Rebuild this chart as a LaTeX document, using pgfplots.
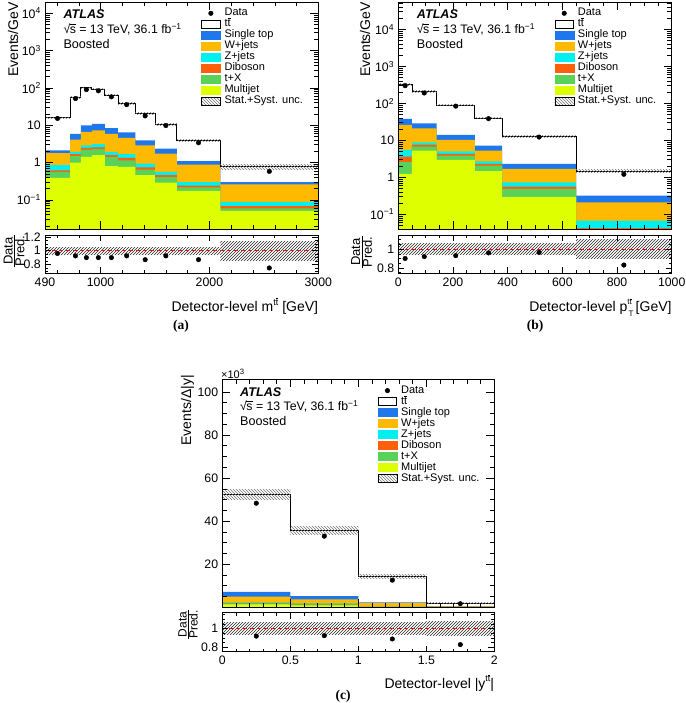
\documentclass[border=0pt]{standalone}
\usepackage{fontspec}
\setmainfont{Liberation Sans}
\newfontfamily\serifbf{Liberation Serif}
\usepackage{pgfplots}
\pgfplotsset{compat=1.18}
\usepackage{pgfplotstable}
\usetikzlibrary{patterns}

\definecolor{cST}{RGB}{30,120,235}
\definecolor{cW}{RGB}{255,185,0}
\definecolor{cZ}{RGB}{0,240,240}
\definecolor{cDB}{RGB}{255,95,10}
\definecolor{cTX}{RGB}{90,210,90}
\definecolor{cMJ}{RGB}{222,255,0}

\newcommand\tickfont{\fontsize{12.3}{14}\selectfont}
\newcommand\labfont{\fontsize{14}{16}\selectfont}
\newcommand\legfont{\fontsize{11}{12}\selectfont}
\newcommand\ratfont{\fontsize{13}{15}\selectfont}
\newcommand\ttbar{t\vbox{\hrule height 0.055em\kern 0.07em\hbox{t}}}
\newcommand\sqrts{√\kern-0.5pt\vbox{\hrule height 0.6pt\kern 2pt\hbox{s}}}

% cumulative stack tops at bin low edges (last row repeats)
\pgfplotstableread{
x tt st wj zj db tx mj
490 15.8 2.13 1.8 0.85 0.62 0.56 0.39
720 56 5.9 4.1 1.92 1.67 1.5 1.0
820 100 9.9 6.6 2.9 2.46 2.22 1.42
920 93 10.9 7.3 3.1 2.56 2.3 1.57
1040 64 8.4 5.9 1.92 1.57 1.42 0.8
1160 38.5 6.4 4.6 1.67 1.33 1.15 0.77
1320 20.5 3.9 2.9 0.94 0.74 0.65 0.46
1500 10.6 2.36 1.74 0.56 0.46 0.41 0.29
1700 3.9 1.1 0.88 0.3 0.24 0.215 0.175
2100 0.77 0.3 0.26 0.089 0.068 0.059 0.051
3000 0.77 0.3 0.26 0.089 0.068 0.059 0.051
}\stackA
\pgfplotstableread{
x tt st wj zj db tx mj
0 332 37.7 26 5.5 3.6 2.6 1.23
50 207 28.8 21 8.8 7.6 6.7 5.2
140 90 13.9 10.2 5.0 4.26 3.85 2.94
280 40 7.2 5.25 2.7 2.3 2.07 1.45
380 12.6 2.3 1.68 0.73 0.56 0.48 0.29
650 1.45 0.32 0.21 0.067 0.042 0.03 0.02
1000 1.45 0.32 0.21 0.067 0.042 0.03 0.02
}\stackB
\pgfplotstableread{
x tt st wj zj db tx mj
0 52.5 7.2 4.9 2.3 2.0 1.85 1.4
0.5 35.7 5.2 3.7 1.85 1.6 1.4 0.9
1 14.2 2.3 1.9 0.35 0.3 0.25 0.15
1.5 2.0 0.55 0.4 0.1 0.08 0.06 0.04
2 2.0 0.55 0.4 0.1 0.08 0.06 0.04
}\stackC
\pgfplotstableread{
x y r
605 15.2 0.96
770 51.8 0.925
870 90 0.90
980 83.7 0.90
1100 57.6 0.90
1240 35.6 0.925
1410 17.8 0.87
1600 9.8 0.925
1900 3.39 0.87
2550 0.58 0.75
}\dataA
\pgfplotstableread{
x y r
25 299 0.90
95 190 0.92
210 83.7 0.93
330 38.4 0.96
515 12.2 0.965
825 1.2 0.83
}\dataB
\pgfplotstableread{
x y r
0.25 48.3 0.92
0.75 33.0 0.925
1.25 12.6 0.89
1.75 1.66 0.83
}\dataC

\newcommand{\stk}[5]{\addplot[const plot, forget plot, #5] table[x=x,y=#2]{#1} |- (axis cs:#3,#4) -- cycle;}
\newcommand{\allstk}[3]{%
\stk{#1}{tt}{#2}{#3}{fill=white, draw=black, line width=0.9pt}
\stk{#1}{st}{#2}{#3}{fill=cST, draw=none}
\stk{#1}{wj}{#2}{#3}{fill=cW, draw=none}
\stk{#1}{zj}{#2}{#3}{fill=cZ, draw=none}
\stk{#1}{db}{#2}{#3}{fill=cDB, draw=none}
\stk{#1}{tx}{#2}{#3}{fill=cTX, draw=none}
\stk{#1}{mj}{#2}{#3}{fill=cMJ, draw=none}
\addplot[const plot, forget plot, draw=black, line width=0.9pt] table[x=x,y=tt]{#1};
}
\newcommand{\bb}[4]{\addplot[forget plot, draw=none, pattern=north west lines, pattern color=black!55] coordinates {(#1,#3) (#2,#3) (#2,#4) (#1,#4)} -- cycle;}
\newcommand{\rb}[4]{\addplot[forget plot, draw=none, pattern=north east lines, pattern color=black!85] coordinates {(#1,#3) (#2,#3) (#2,#4) (#1,#4)} -- cycle;}

\newcommand{\atlaslegend}{%
\addlegendimage{legend image code/.code={\fill[black] (9.5pt,0pt) circle (2.3pt);}}
\addlegendentry{Data}
\addlegendimage{legend image code/.code={\draw[black,fill=white,line width=0.8pt] (0.4pt,-4pt) rectangle (18.6pt,4pt);}}
\addlegendentry{\ttbar}
\addlegendimage{legend image code/.code={\fill[cST] (0pt,-4pt) rectangle (19pt,4pt);}}
\addlegendentry{Single top}
\addlegendimage{legend image code/.code={\fill[cW] (0pt,-4pt) rectangle (19pt,4pt);}}
\addlegendentry{W+jets}
\addlegendimage{legend image code/.code={\fill[cZ] (0pt,-4pt) rectangle (19pt,4pt);}}
\addlegendentry{Z+jets}
\addlegendimage{legend image code/.code={\fill[cDB] (0pt,-4pt) rectangle (19pt,4pt);}}
\addlegendentry{Diboson}
\addlegendimage{legend image code/.code={\fill[cTX] (0pt,-4pt) rectangle (19pt,4pt);}}
\addlegendentry{t+X}
\addlegendimage{legend image code/.code={\fill[cMJ] (0pt,-4pt) rectangle (19pt,4pt);}}
\addlegendentry{Multijet}
\addlegendimage{legend image code/.code={\fill[pattern=north west lines, pattern color=black!55] (0pt,-4pt) rectangle (19pt,4pt);}}
\addlegendentry{Stat.+Syst. unc.}
}

\pgfplotsset{
  atlas/.style={scale only axis, anchor=south west, axis on top, tick align=inside,
    xtick pos=both, ytick pos=both, xticklabel pos=left, yticklabel pos=left,
    axis line style={line width=0.6pt}, tick style={black, line width=0.5pt},
    ticklabel style={font=\tickfont},
    yticklabel style={inner sep=0pt, xshift=-4pt},
    xticklabel style={inner sep=0pt, yshift=-3.5pt, text height=9pt, text depth=0pt},
    /pgf/number format/assume math mode=true},
  atlasleg/.style={legend style={draw=none, fill=none, at={(axis description cs:0.5714,0.9745)},
    anchor=north west, inner sep=0pt, outer sep=0pt, font=\legfont, row sep=0pt,
    nodes={inner sep=0pt, text height=8pt, text depth=3pt},
    /tikz/every odd column/.append style={column sep=4pt}}, legend cell align=left},
  ratio/.style={major tick length=6pt, minor tick length=3pt}
}

\begin{document}
\begin{tikzpicture}
\useasboundingbox (0,0) rectangle (685pt,703pt);

% ===================== (a) =====================
\begin{axis}[atlas, atlasleg, at={(45pt,473.7pt)}, width=273.3pt, height=227.3pt,
  xmin=490, xmax=3000, ymode=log, ymin=0.0163, ymax=2.0e4,
  xtick={490,1000,2000,3000}, xticklabels={},
  minor xtick={600,800,1200,1400,1600,1800,2200,2400,2600,2800},
  ytick={0.1,1,10,100,1000,10000},
  yticklabels={10\textsuperscript{−1},1,10,10\textsuperscript{2},10\textsuperscript{3},10\textsuperscript{4}},
  minor ytick={0.02,0.03,0.04,0.05,0.06,0.07,0.08,0.09,0.2,0.3,0.4,0.5,0.6,0.7,0.8,0.9,2,3,4,5,6,7,8,9,20,30,40,50,60,70,80,90,200,300,400,500,600,700,800,900,2000,3000,4000,5000,6000,7000,8000,9000},
  major tick length=8pt, minor tick length=4.5pt]
\atlaslegend
\allstk{\stackA}{490}{1e-4}
\bb{490}{720}{15.01}{16.59}
\bb{720}{820}{53.2}{58.8}
\bb{820}{920}{95}{105}
\bb{920}{1040}{88.35}{97.65}
\bb{1040}{1160}{60.8}{67.2}
\bb{1160}{1320}{36.58}{40.43}
\bb{1320}{1500}{19.48}{21.53}
\bb{1500}{1700}{10.07}{11.13}
\bb{1700}{2100}{3.71}{4.10}
\bb{2100}{3000}{0.662}{0.878}
\addplot[only marks, mark=*, mark size=2.3pt, black, forget plot] table[x=x,y=y]{\dataA};
\end{axis}
\begin{axis}[atlas, ratio, at={(45pt,429.5pt)}, width=273.3pt, height=38pt,
  xmin=490, xmax=3000, ymin=0.67, ymax=1.22,
  xtick={490,1000,2000,3000}, xticklabels={490,1000,2000,3000},
  minor xtick={600,800,1200,1400,1600,1800,2200,2400,2600,2800},
  ytick={0.8,1,1.2}, yticklabels={0.8,1,1.2},
  minor ytick={0.7,0.75,0.85,0.9,0.95,1.05,1.1,1.15}]
\rb{490}{2100}{0.95}{1.05}
\rb{2100}{3000}{0.86}{1.14}
\addplot[forget plot, red, dash pattern=on 4pt off 3pt, line width=0.8pt] coordinates {(490,1) (3000,1)};
\addplot[only marks, mark=*, mark size=2.3pt, black, forget plot] table[x=x,y=r]{\dataA};
\end{axis}

% ===================== (b) =====================
\begin{axis}[atlas, atlasleg, at={(398.3pt,473.7pt)}, width=273.4pt, height=227.3pt,
  xmin=0, xmax=1000, ymode=log, ymin=0.039, ymax=5.5e4,
  xtick={0,200,400,600,800,1000}, xticklabels={}, minor x tick num=3,
  ytick={0.1,1,10,100,1000,10000},
  yticklabels={10\textsuperscript{−1},1,10,10\textsuperscript{2},10\textsuperscript{3},10\textsuperscript{4}},
  minor ytick={0.04,0.05,0.06,0.07,0.08,0.09,0.2,0.3,0.4,0.5,0.6,0.7,0.8,0.9,2,3,4,5,6,7,8,9,20,30,40,50,60,70,80,90,200,300,400,500,600,700,800,900,2000,3000,4000,5000,6000,7000,8000,9000,20000,30000,40000,50000},
  major tick length=8pt, minor tick length=4.5pt]
\atlaslegend
\allstk{\stackB}{0}{1e-4}
\bb{0}{50}{312.1}{351.9}
\bb{50}{140}{194.6}{219.4}
\bb{140}{280}{84.6}{95.4}
\bb{280}{380}{37.6}{42.4}
\bb{380}{650}{11.84}{13.36}
\bb{650}{1000}{1.305}{1.595}
\addplot[only marks, mark=*, mark size=2.3pt, black, forget plot] table[x=x,y=y]{\dataB};
\end{axis}
\begin{axis}[atlas, ratio, at={(398.3pt,429.5pt)}, width=273.4pt, height=38pt,
  xmin=0, xmax=1000, ymin=0.74, ymax=1.145,
  xtick={0,200,400,600,800,1000}, xticklabels={0,200,400,600,800,1000}, minor x tick num=3,
  ytick={0.8,1}, yticklabels={0.8,1},
  minor ytick={0.75,0.85,0.9,0.95,1.05,1.1}]
\rb{0}{650}{0.94}{1.06}
\rb{650}{1000}{0.90}{1.10}
\addplot[forget plot, red, dash pattern=on 4pt off 3pt, line width=0.8pt] coordinates {(0,1) (1000,1)};
\addplot[only marks, mark=*, mark size=2.3pt, black, forget plot] table[x=x,y=r]{\dataB};
\addplot[only marks, mark=none, black, forget plot, error bars/.cd, y dir=both, y explicit, error mark=none, error bar style={line width=0.8pt}] coordinates {(825,0.83) +- (0,0.025)};
\end{axis}

% ===================== (c) =====================
\begin{axis}[atlas, atlasleg, at={(222.3pt,95.7pt)}, width=272pt, height=228pt,
  xmin=0, xmax=2, ymin=0, ymax=105.8,
  xtick={0,0.5,1,1.5,2}, xticklabels={}, minor x tick num=4,
  ytick={0,20,40,60,80,100}, yticklabels={,20,40,60,80,100}, minor y tick num=3,
  major tick length=8pt, minor tick length=4.5pt]
\atlaslegend
\allstk{\stackC}{0}{0}
\bb{0}{0.5}{50.2}{54.8}
\bb{0.5}{1}{33.9}{37.5}
\bb{1}{1.5}{13.4}{15.0}
\bb{1.5}{2}{1.85}{2.15}
\addplot[only marks, mark=*, mark size=2.3pt, black, forget plot] table[x=x,y=y]{\dataC};
\end{axis}
\begin{axis}[atlas, ratio, at={(222.3pt,51.3pt)}, width=272pt, height=39.2pt,
  xmin=0, xmax=2, ymin=0.755, ymax=1.17,
  xtick={0,0.5,1,1.5,2}, xticklabels={0,0.5,1,1.5,2}, minor x tick num=4,
  ytick={0.8,1}, yticklabels={0.8,1},
  minor ytick={0.85,0.9,0.95,1.05,1.1,1.15}]
\rb{0}{1.5}{0.937}{1.063}
\rb{1.5}{2}{0.926}{1.074}
\addplot[forget plot, red, dash pattern=on 4pt off 3pt, line width=0.8pt] coordinates {(0,1) (2,1)};
\addplot[only marks, mark=*, mark size=2.3pt, black, forget plot] table[x=x,y=r]{\dataC};
\end{axis}

% ===================== texts =====================
\foreach \xx/\yy in {63.3/684.1, 416.7/684.1, 240/306.8}{
  \node[anchor=base west, font=\fontsize{12.6}{15}\selectfont\bfseries\itshape, inner sep=0pt] at (\xx pt,\yy pt) {ATLAS};
}
\foreach \xx/\yy in {63.3/669.6, 416.7/669.6, 240/292.3}{
  \node[anchor=base west, font=\fontsize{12.3}{15}\selectfont, inner sep=0pt] at (\xx pt,\yy pt) {\sqrts{} = 13 TeV, 36.1 fb\raisebox{4pt}{\fontsize{8.5}{9}\selectfont −1}};
}
\foreach \xx/\yy in {63.3/654.5, 416.7/654.5, 240/277.2}{
  \node[anchor=base west, font=\fontsize{12.6}{15}\selectfont, inner sep=0pt] at (\xx pt,\yy pt) {Boosted};
}
\node[rotate=90, anchor=east, font=\labfont, inner sep=0pt] at (13pt,701pt) {Events/GeV};
\node[rotate=90, anchor=east, font=\labfont, inner sep=0pt] at (365pt,701pt) {Events/GeV};
\node[rotate=90, anchor=east, font=\labfont, inner sep=0pt] at (187.5pt,328pt) {Events/Δ|y|};
\node[rotate=90, font=\ratfont, inner sep=0pt] at (14pt,452pt) {$\frac{\mbox{Data}}{\mbox{Pred.}}$};
\node[rotate=90, font=\ratfont, inner sep=0pt] at (361.5pt,451pt) {$\frac{\mbox{Data}}{\mbox{Pred.}}$};
\node[rotate=90, font=\fontsize{12}{14}\selectfont, inner sep=0pt] at (188pt,78.5pt) {$\frac{\mbox{Data}}{\mbox{Pred.}}$};
\node[anchor=west, font=\fontsize{11}{12}\selectfont, inner sep=0pt] at (221pt,329.5pt) {×10\textsuperscript{3}};
\node[anchor=base east, font=\labfont, inner sep=0pt] at (318.3pt,391.3pt) {Detector-level m\raisebox{6.5pt}{\fontsize{9}{9}\selectfont\ttbar} [GeV]};
\node[anchor=base east, font=\labfont, inner sep=0pt] at (671.7pt,391.3pt) {Detector-level p\rlap{\raisebox{-4.5pt}{\fontsize{8}{8}\selectfont\,T}}\raisebox{7pt}{\fontsize{8}{8}\selectfont\ttbar} [GeV]};
\node[anchor=base east, font=\labfont, inner sep=0pt] at (494.3pt,14.7pt) {Detector-level |y\raisebox{6.5pt}{\fontsize{9}{9}\selectfont\ttbar}|};
\node[font=\serifbf\bfseries\fontsize{13.5}{15}\selectfont, inner sep=0pt] at (181pt,377pt) {(a)};
\node[font=\serifbf\bfseries\fontsize{13.5}{15}\selectfont, inner sep=0pt] at (535pt,377pt) {(b)};
\node[font=\serifbf\bfseries\fontsize{13.5}{15}\selectfont, inner sep=0pt] at (343pt,7pt) {(c)};
\end{tikzpicture}
\end{document}
